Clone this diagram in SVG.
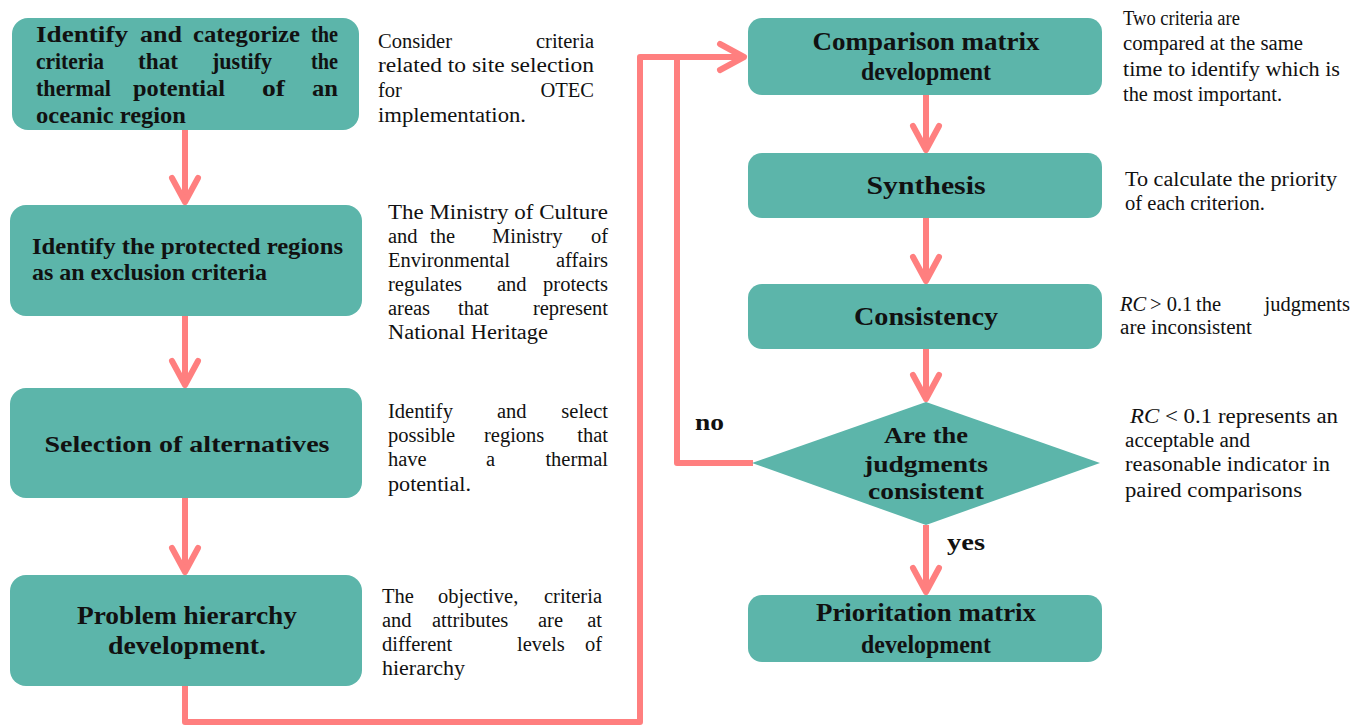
<svg xmlns="http://www.w3.org/2000/svg" width="1355" height="725" viewBox="0 0 1355 725">
<style>
.box{fill:#5CB5AA}
.nt{font-family:"Liberation Serif",serif;font-weight:bold;font-size:24px;fill:#111}
.ds{font-family:"Liberation Serif",serif;font-size:20.5px;fill:#111}
.c{fill:none;stroke:#FF7F7F;stroke-width:6;stroke-linejoin:round}
.e{text-anchor:end}
.m{text-anchor:middle}
</style>
<defs>
<marker id="ah" markerUnits="userSpaceOnUse" markerWidth="40" markerHeight="40" viewBox="0 0 40 40" refX="31" refY="20" orient="auto" overflow="visible">
<path d="M7,7 L31,20 L7,33" fill="none" stroke="#FF7F7F" stroke-width="6" stroke-linecap="round" stroke-linejoin="round"/>
</marker>
</defs>
<rect width="1355" height="725" fill="#fff"/>

<g id="connectors">
<path class="c" d="M185,130 V202" marker-end="url(#ah)"/>
<path class="c" d="M185,316 V385" marker-end="url(#ah)"/>
<path class="c" d="M185,498 V572" marker-end="url(#ah)"/>
<path class="c" d="M185,686 V722 H640 V57 H744" marker-end="url(#ah)"/>
<path class="c" d="M753,463 H677 V57"/>
<path class="c" d="M926,95 V150" marker-end="url(#ah)"/>
<path class="c" d="M926,218 V281" marker-end="url(#ah)"/>
<path class="c" d="M926,349 V399" marker-end="url(#ah)"/>
<path class="c" d="M926,525 V592" marker-end="url(#ah)"/>
<text class="nt" x="695" y="430" textLength="29" lengthAdjust="spacingAndGlyphs">no</text>
<text class="nt" x="947" y="550" textLength="38" lengthAdjust="spacingAndGlyphs">yes</text>
</g>

<g id="n1">
<rect class="box" x="12" y="18" width="347" height="112" rx="16"/>
<text class="nt" x="36" y="42" textLength="92" lengthAdjust="spacingAndGlyphs">Identify</text>
<text class="nt" x="140" y="42" textLength="42" lengthAdjust="spacingAndGlyphs">and</text>
<text class="nt" x="193" y="42" textLength="107" lengthAdjust="spacingAndGlyphs">categorize</text>
<text class="nt" x="311" y="42" textLength="27" lengthAdjust="spacingAndGlyphs">the</text>
<text class="nt" x="36" y="69" textLength="68" lengthAdjust="spacingAndGlyphs">criteria</text>
<text class="nt" x="138" y="69" textLength="40" lengthAdjust="spacingAndGlyphs">that</text>
<text class="nt" x="212" y="69" textLength="60" lengthAdjust="spacingAndGlyphs">justify</text>
<text class="nt" x="311" y="69" textLength="27" lengthAdjust="spacingAndGlyphs">the</text>
<text class="nt" x="36" y="96" textLength="75" lengthAdjust="spacingAndGlyphs">thermal</text>
<text class="nt" x="133" y="96" textLength="92" lengthAdjust="spacingAndGlyphs">potential</text>
<text class="nt" x="262" y="96" textLength="23" lengthAdjust="spacingAndGlyphs">of</text>
<text class="nt" x="312" y="96" textLength="26" lengthAdjust="spacingAndGlyphs">an</text>
<text class="nt" x="36" y="123" textLength="150" lengthAdjust="spacingAndGlyphs">oceanic region</text>
</g>
<g id="d1">
<text class="ds"><tspan x="378" y="48">Consider</tspan><tspan class="e" x="594">criteria</tspan></text>
<text class="ds" x="378" y="72" textLength="216" lengthAdjust="spacingAndGlyphs">related to site selection</text>
<text class="ds"><tspan x="378" y="97">for</tspan><tspan class="e" x="594">OTEC</tspan></text>
<text class="ds" x="378" y="122" textLength="148" lengthAdjust="spacingAndGlyphs">implementation.</text>
</g>

<g id="n2">
<rect class="box" x="10" y="205" width="352" height="111" rx="16"/>
<text class="nt" x="32" y="254" textLength="311" lengthAdjust="spacingAndGlyphs">Identify the protected regions</text>
<text class="nt" x="32" y="280" textLength="235" lengthAdjust="spacingAndGlyphs">as an exclusion criteria</text>
</g>
<g id="d2">
<text class="ds" x="388" y="219" textLength="220" lengthAdjust="spacingAndGlyphs">The Ministry of Culture</text>
<text class="ds"><tspan x="388" y="243">and</tspan><tspan x="430">the</tspan><tspan x="492">Ministry</tspan><tspan class="e" x="608">of</tspan></text>
<text class="ds"><tspan x="388" y="267">Environmental</tspan><tspan class="e" x="608">affairs</tspan></text>
<text class="ds"><tspan x="388" y="291">regulates</tspan><tspan x="497">and</tspan><tspan class="e" x="608">protects</tspan></text>
<text class="ds"><tspan x="388" y="315">areas</tspan><tspan x="458">that</tspan><tspan class="e" x="608">represent</tspan></text>
<text class="ds" x="388" y="339" textLength="160" lengthAdjust="spacingAndGlyphs">National Heritage</text>
</g>

<g id="n3">
<rect class="box" x="10" y="388" width="352" height="110" rx="16"/>
<text class="nt m" x="187" y="452" textLength="285" lengthAdjust="spacingAndGlyphs">Selection of alternatives</text>
</g>
<g id="d3">
<text class="ds"><tspan x="388" y="418">Identify</tspan><tspan x="497">and</tspan><tspan class="e" x="608">select</tspan></text>
<text class="ds"><tspan x="388" y="442">possible</tspan><tspan x="484">regions</tspan><tspan class="e" x="608">that</tspan></text>
<text class="ds"><tspan x="388" y="466">have</tspan><tspan x="486">a</tspan><tspan class="e" x="608">thermal</tspan></text>
<text class="ds" x="388" y="491" textLength="83" lengthAdjust="spacingAndGlyphs">potential.</text>
</g>

<g id="n4">
<rect class="box" x="10" y="575" width="352" height="111" rx="16"/>
<text class="nt m" x="187" y="624" style="font-size:26px" textLength="220" lengthAdjust="spacingAndGlyphs">Problem hierarchy</text>
<text class="nt m" x="187" y="654" style="font-size:26px" textLength="158" lengthAdjust="spacingAndGlyphs">development.</text>
</g>
<g id="d4">
<text class="ds"><tspan x="382" y="603">The</tspan><tspan x="438">objective,</tspan><tspan class="e" x="602">criteria</tspan></text>
<text class="ds"><tspan x="382" y="627">and</tspan><tspan x="432">attributes</tspan><tspan x="538">are</tspan><tspan class="e" x="602">at</tspan></text>
<text class="ds"><tspan x="382" y="651">different</tspan><tspan x="517">levels</tspan><tspan class="e" x="602">of</tspan></text>
<text class="ds" x="382" y="675" textLength="83" lengthAdjust="spacingAndGlyphs">hierarchy</text>
</g>

<g id="n5">
<rect class="box" x="748" y="18" width="354" height="77" rx="14"/>
<text class="nt m" x="926" y="50" style="font-size:25px" textLength="227" lengthAdjust="spacingAndGlyphs">Comparison matrix</text>
<text class="nt m" x="926" y="80" style="font-size:25px" textLength="130" lengthAdjust="spacingAndGlyphs">development</text>
</g>
<g id="d5">
<text class="ds" x="1123" y="25" textLength="117" lengthAdjust="spacingAndGlyphs">Two criteria  are</text>
<text class="ds" x="1123" y="50" textLength="180" lengthAdjust="spacingAndGlyphs">compared  at the same</text>
<text class="ds" x="1123" y="76" textLength="217" lengthAdjust="spacingAndGlyphs">time to identify which is</text>
<text class="ds" x="1123" y="101" textLength="159" lengthAdjust="spacingAndGlyphs">the most important.</text>
</g>

<g id="n6">
<rect class="box" x="748" y="153" width="354" height="65" rx="14"/>
<text class="nt m" x="926" y="194" style="font-size:25px" textLength="119" lengthAdjust="spacingAndGlyphs">Synthesis</text>
</g>
<g id="d6">
<text class="ds" x="1125" y="186" textLength="212" lengthAdjust="spacingAndGlyphs">To calculate  the priority</text>
<text class="ds" x="1125" y="210" textLength="140" lengthAdjust="spacingAndGlyphs">of each criterion.</text>
</g>

<g id="n7">
<rect class="box" x="748" y="284" width="354" height="65" rx="14"/>
<text class="nt m" x="926" y="325" style="font-size:25px" textLength="144" lengthAdjust="spacingAndGlyphs">Consistency</text>
</g>
<g id="d7">
<text class="ds"><tspan x="1120" y="311" font-style="italic">RC</tspan><tspan x="1150">&gt; 0.1</tspan><tspan x="1196">the</tspan><tspan class="e" x="1350">judgments</tspan></text>
<text class="ds" x="1120" y="334" textLength="132" lengthAdjust="spacingAndGlyphs">are inconsistent</text>
</g>

<g id="n8">
<polygon class="box" points="926,402 1100,463 926,525 752,463"/>
<text class="nt m" x="926" y="443" textLength="84" lengthAdjust="spacingAndGlyphs">Are the</text>
<text class="nt m" x="926" y="472" textLength="124" lengthAdjust="spacingAndGlyphs">judgments</text>
<text class="nt m" x="926" y="499" textLength="116" lengthAdjust="spacingAndGlyphs">consistent</text>
</g>
<g id="d8">
<text class="ds" x="1130" y="423" textLength="208" lengthAdjust="spacingAndGlyphs"><tspan font-style="italic">RC</tspan> &lt; 0.1 represents an</text>
<text class="ds" x="1125" y="447" textLength="125" lengthAdjust="spacingAndGlyphs">acceptable and</text>
<text class="ds" x="1125" y="471" textLength="205" lengthAdjust="spacingAndGlyphs">reasonable indicator in</text>
<text class="ds" x="1125" y="497" textLength="177" lengthAdjust="spacingAndGlyphs">paired comparisons</text>
</g>

<g id="n9">
<rect class="box" x="748" y="595" width="354" height="67" rx="14"/>
<text class="nt m" x="926" y="621" style="font-size:25px" textLength="220" lengthAdjust="spacingAndGlyphs">Prioritation matrix</text>
<text class="nt m" x="926" y="653" style="font-size:25px" textLength="130" lengthAdjust="spacingAndGlyphs">development</text>
</g>
</svg>
